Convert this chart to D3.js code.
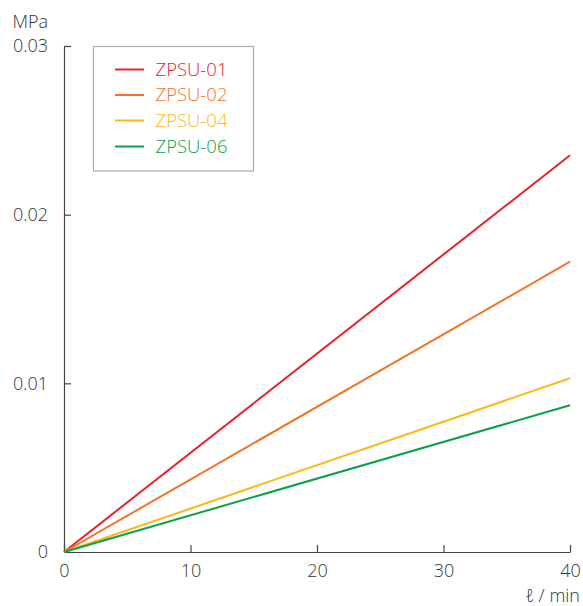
<!DOCTYPE html>
<html><head><meta charset="utf-8">
<script src="https://cdn.jsdelivr.net/npm/d3@7"></script>
<style>
body{margin:0;background:#fff;}
text{font-family:"Open Sans","Noto Sans",sans-serif;font-weight:300;}
</style></head>
<body><svg id="c" width="583" height="606"></svg>
<script>
const flow = [0, 40];
const seriesNames = ["ZPSU-01", "ZPSU-02", "ZPSU-04", "ZPSU-06"];
const zpsu01 = [0, 0.02352];
const zpsu02 = [0, 0.01721];
const zpsu04 = [0, 0.01030];
const zpsu06 = [0, 0.00870];
const colors = ["#e8212b", "#f37327", "#fdb813", "#0aa14a"];
const xTicks = [0, 10, 20, 30, 40];
const yTicks = [0, 0.01, 0.02, 0.03];
const yTickLabels = ["0", "0.01", "0.02", "0.03"];

const series = [zpsu01, zpsu02, zpsu04, zpsu06];
const svg = d3.select("#c");
const x = d3.scaleLinear().domain([0, 40]).range([64, 570]);
const y = d3.scaleLinear().domain([0, 0.03]).range([552, 46]);
const axisColor = "#444";
const textColor = "#333";

const xAxis = svg.append("g").attr("transform", "translate(0,552)")
  .call(d3.axisBottom(x).tickValues(xTicks).tickSizeInner(-7).tickSizeOuter(0).tickPadding(17).tickFormat(d3.format("d")));
const yAxis = svg.append("g").attr("transform", "translate(64,0)")
  .call(d3.axisLeft(y).tickValues(yTicks).tickSizeInner(-7).tickSizeOuter(0).tickPadding(17).tickFormat((d,i)=>yTickLabels[i]));
[xAxis, yAxis].forEach(g => {
  g.select(".domain").attr("stroke", axisColor).attr("stroke-width", 1.2);
  g.selectAll(".tick line").attr("stroke", axisColor).attr("stroke-width", 1.2);
  g.selectAll(".tick text").attr("fill", textColor).style("font-size", "18px").style("font-family", "'Open Sans','Noto Sans',sans-serif").style("font-weight", 300);
});
xAxis.selectAll(".tick text").attr("dy", "0.71em").attr("y", 12);
yAxis.selectAll(".tick text").attr("x", -16);

svg.append("text").attr("x", 48).attr("y", 28).attr("text-anchor", "end")
  .attr("fill", textColor).style("font-size", "18px").text("MPa");
svg.append("text").attr("x", 580).attr("y", 602).attr("text-anchor", "end")
  .attr("fill", textColor).style("font-size", "18px").text("ℓ / min");

const line = d3.line().x((d, i) => x(flow[i])).y(d => y(d));
series.forEach((s, i) => {
  svg.append("path").datum(s).attr("d", line).attr("fill", "none")
    .attr("stroke", colors[i]).attr("stroke-width", 2);
});

// legend
svg.append("rect").attr("x", 93.5).attr("y", 46.5).attr("width", 160).attr("height", 124.5)
  .attr("fill", "#fff").attr("stroke", "#aaa").attr("stroke-width", 1.2);
const rowY = [69.5, 95, 120.5, 146.5];
seriesNames.forEach((n, i) => {
  svg.append("line").attr("x1", 115).attr("x2", 144).attr("y1", rowY[i]).attr("y2", rowY[i])
    .attr("stroke", colors[i]).attr("stroke-width", 2);
  svg.append("text").attr("x", 155.5).attr("y", rowY[i]).attr("dy", "0.35em")
    .attr("fill", colors[i]).style("font-size", "18.5px").text(n);
});
</script></body></html>
